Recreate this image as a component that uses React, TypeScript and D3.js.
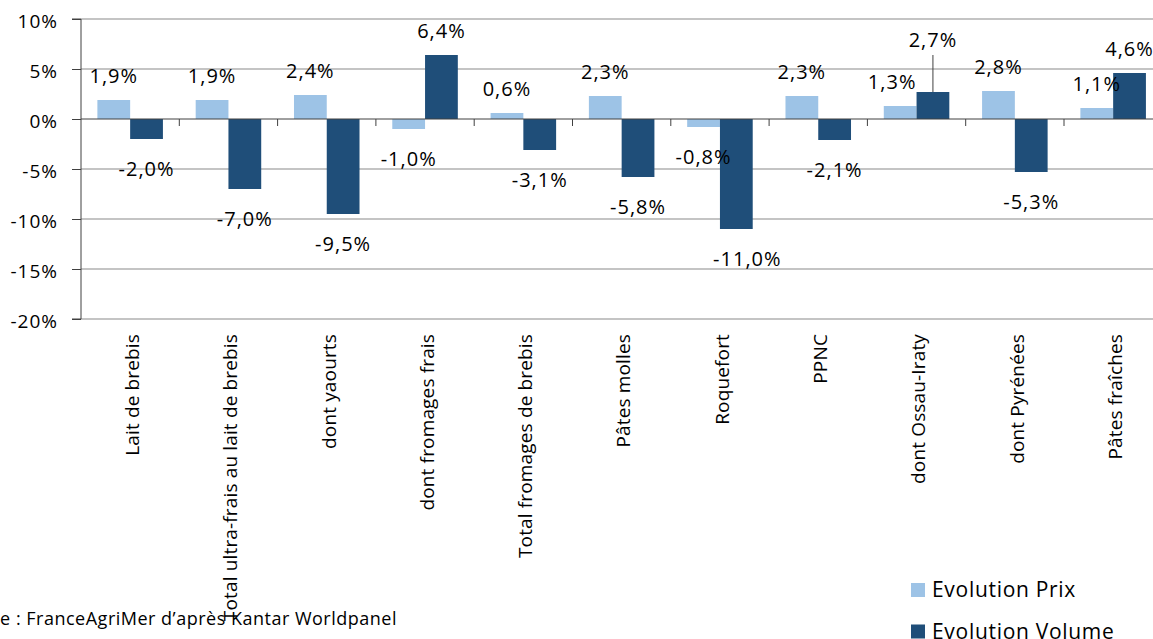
import * as d3 from "d3";
import { useEffect, useRef } from "react";

const categories = [
  "Lait de brebis",
  "Total ultra-frais au lait de brebis",
  "dont yaourts",
  "dont fromages frais",
  "Total fromages de brebis",
  "Pâtes molles",
  "Roquefort",
  "PPNC",
  "dont Ossau-Iraty",
  "dont Pyrénées",
  "Pâtes fraîches",
];
const prixValues = [1.9, 1.9, 2.4, -1.0, 0.6, 2.3, -0.8, 2.3, 1.3, 2.8, 1.1];
const volumeValues = [-2.0, -7.0, -9.5, 6.4, -3.1, -5.8, -11.0, -2.1, 2.7, -5.3, 4.6];
const seriesNames = ["Evolution Prix", "Evolution Volume"];
const yTicks = [10, 5, 0, -5, -10, -15, -20];
const sourceText = "Source : FranceAgriMer d’après Kantar Worldpanel";

const colors = { "Evolution Prix": "#9dc3e6", "Evolution Volume": "#1f4e79" };
const FONT = "'Open Sans', sans-serif";

export default function App() {
  const svgRef = useRef<SVGSVGElement>(null);
  const width = 1153,
    height = 639;

  useEffect(() => {
    const svg = d3.select(svgRef.current);
    svg.selectAll("*").remove();

    const left = 81;
    const step = 98.3;
    const x0 = d3
      .scaleBand()
      .domain(categories)
      .range([left, left + categories.length * step]);
    const x1 = d3
      .scaleBand()
      .domain(seriesNames)
      .range([0, x0.bandwidth()])
      .paddingOuter(0.5);
    const y = d3.scaleLinear().domain([-20, 10]).range([319, 19]);

    // grid
    svg
      .append("g")
      .selectAll("line")
      .data(yTicks.filter((t) => t !== 0))
      .join("line")
      .attr("x1", left)
      .attr("x2", width)
      .attr("y1", (d) => y(d))
      .attr("y2", (d) => y(d))
      .attr("stroke", "#c4c4c4")
      .attr("stroke-width", 2);

    // y axis
    const yAxis = svg.append("g").attr("transform", `translate(${left},0)`);
    yAxis
      .call(d3.axisLeft(y).tickValues(yTicks).tickSize(9).tickPadding(14).tickFormat((d) => `${d}%`))
      .call((g) => g.select(".domain").attr("stroke", "#404040").attr("d", `M-9,${y(10)}H0V${y(-20)}H-9`))
      .call((g) => g.selectAll(".tick line").attr("stroke", "#404040"))
      .call((g) =>
        g
          .selectAll(".tick text")
          .attr("font-family", FONT)
          .attr("font-size", 19)
          .attr("letter-spacing", 1)
          .attr("fill", "#000")
          .attr("dy", "0.45em")
      );

    // bars
    const rows = categories.map((c, i) => ({
      cat: c,
      vals: [
        { key: seriesNames[0], v: prixValues[i] },
        { key: seriesNames[1], v: volumeValues[i] },
      ],
    }));

    const groups = svg
      .append("g")
      .selectAll("g")
      .data(rows)
      .join("g")
      .attr("transform", (d) => `translate(${x0(d.cat)},0)`);

    groups
      .selectAll("rect")
      .data((d) => d.vals)
      .join("rect")
      .attr("x", (d) => x1(d.key))
      .attr("width", x1.bandwidth())
      .attr("y", (d) => y(Math.max(0, d.v)))
      .attr("height", (d) => Math.abs(y(d.v) - y(0)))
      .attr("fill", (d) => colors[d.key]);

    // zero line + category ticks
    svg
      .append("line")
      .attr("x1", left)
      .attr("x2", width)
      .attr("y1", y(0))
      .attr("y2", y(0))
      .attr("stroke", "#404040")
      .attr("stroke-width", 1);
    svg
      .append("g")
      .selectAll("line")
      .data(categories.slice(1))
      .join("line")
      .attr("x1", (d) => x0(d))
      .attr("x2", (d) => x0(d))
      .attr("y1", y(0))
      .attr("y2", y(0) + 7)
      .attr("stroke", "#404040");

    // value labels (a couple were moved by hand in the original)
    const nudge = {
      "dont Ossau-Iraty|Evolution Prix": [-8, 0],
      "dont Ossau-Iraty|Evolution Volume": [0, -28],
      "Roquefort|Evolution Volume": [11, 0],
    };
    const fmt = (v: number) => `${v.toFixed(1).replace(".", ",")}%`;
    groups.each(function (row) {
      const g = d3.select(this);
      row.vals.forEach((d) => {
        const [dx, dy] = nudge[`${row.cat}|${d.key}`] || [0, 0];
        const cx = x1(d.key) + x1.bandwidth() / 2;
        const base = d.v >= 0 ? y(d.v) - 17 : y(d.v) + 37;
        if (dy !== 0) {
          g.append("line")
            .attr("x1", cx)
            .attr("x2", cx)
            .attr("y1", base + dy + 8)
            .attr("y2", y(d.v))
            .attr("stroke", "#404040");
        }
        g.append("text")
          .attr("x", cx + dx)
          .attr("y", base + dy)
          .attr("text-anchor", "middle")
          .attr("font-family", FONT)
          .attr("font-size", 20)
          .attr("letter-spacing", 1)
          .attr("fill", "#000")
          .text(fmt(d.v));
      });
    });

    // category labels
    svg
      .append("g")
      .selectAll("text")
      .data(categories)
      .join("text")
      .attr("transform", (d) => `translate(${x0(d) + x0.bandwidth() / 2 + 2},334) rotate(-90)`)
      .attr("text-anchor", "end")
      .attr("dy", "0.36em")
      .attr("font-family", FONT)
      .attr("font-size", 19)
      .attr("letter-spacing", 0.15)
      .attr("fill", "#000")
      .text((d) => d);

    // source (cut at the left edge, as in the original)
    svg
      .append("text")
      .attr("x", 397)
      .attr("y", 625)
      .attr("text-anchor", "end")
      .attr("font-family", FONT)
      .attr("font-size", 18)
      .attr("letter-spacing", 0.5)
      .attr("fill", "#000")
      .text(sourceText);

    // legend
    const legend = svg
      .append("g")
      .selectAll("g")
      .data(seriesNames)
      .join("g")
      .attr("transform", (d, i) => `translate(911,${583 + i * 41.5})`);
    legend
      .append("rect")
      .attr("width", 14)
      .attr("height", 14)
      .attr("fill", (d) => colors[d]);
    legend
      .append("text")
      .attr("x", 21)
      .attr("y", 14)
      .attr("font-family", FONT)
      .attr("font-size", 21)
      .attr("letter-spacing", 0.7)
      .attr("fill", "#000")
      .text((d) => d);
  }, []);

  return (
    <div style={{ position: "fixed", left: 0, top: 0, width, height, background: "#fff" }}>
      <svg ref={svgRef} width={width} height={height} style={{ display: "block" }} />
    </div>
  );
}
